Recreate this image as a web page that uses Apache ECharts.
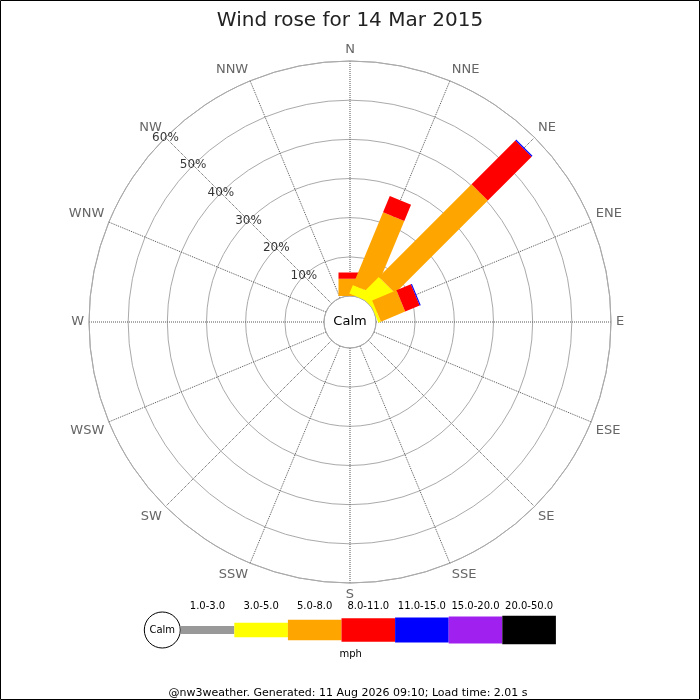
<!DOCTYPE html>
<html><head><meta charset="utf-8">
<script src="https://cdn.jsdelivr.net/npm/echarts@6/dist/echarts.min.js"></script>
<style>html,body{margin:0;padding:0;background:#fff}#c{width:700px;height:700px}</style>
</head><body><div id="c"></div>
<script>
const titleText = 'Wind rose for 14 Mar 2015';
const footerText = '@nw3weather. Generated: 11 Aug 2026 09:10; Load time: 2.01 s';
const directions = ['N','NNE','NE','ENE','E','ESE','SE','SSE','S','SSW','SW','WSW','W','WNW','NW','NNW'];
const speedBins = ['1.0-3.0','3.0-5.0','5.0-8.0','8.0-11.0','11.0-15.0','15.0-20.0','20.0-50.0'];
const binColors = ['#999999','#ffff00','#ffa500','#ff0000','#0000ff','#a020f0','#000000'];
// percentage of time per direction, one array per speed bin (mph)
const bin1to3   = [0,   0,    0,    0,   0,0,0,0,0,0,0,0,0,0,0,0];
const bin3to5   = [0,   2.4,  6.7,  0.7, 0,0,0,0,0,0,0,0,0,0,0,0];
const bin5to8   = [4.4, 20.1, 33.5, 6.7, 0,0,0,0,0,0,0,0,0,0,0,0];
const bin8to11  = [1.6, 4.5,  15.8, 4.0, 0,0,0,0,0,0,0,0,0,0,0,0];
const bin11to15 = [0,   0,    0.3,  0.3, 0,0,0,0,0,0,0,0,0,0,0,0];
const bin15to20 = [0,   0,    0,    0,   0,0,0,0,0,0,0,0,0,0,0,0];
const bin20to50 = [0,   0,    0,    0,   0,0,0,0,0,0,0,0,0,0,0,0];
const radiusTicks = [10, 20, 30, 40, 50, 60];
const labelDirection = 'NW';

const binSeries = [bin1to3, bin3to5, bin5to8, bin8to11, bin11to15, bin15to20, bin20to50];
const FONT = 'DejaVu Sans';
const BAR_HALF = 11.5;
const STEP = 360 / directions.length;

// stacked segments: [angleDeg, start, end, binIndex]
const segs = [];
directions.forEach((d, i) => {
  let acc = 0;
  binSeries.forEach((arr, b) => {
    const v = arr[i];
    if (v > 0) { segs.push([i * STEP, acc, acc + v, b]); acc += v; }
  });
});

const chart = echarts.init(document.getElementById('c'), null, {renderer: 'canvas'});

// legend graphics
const legendEls = [];
const lx0 = 180.7, segW = 53.6, ly = 630;
const legendH = [8, 14.7, 20.7, 23.3, 25, 27, 28.7];
legendEls.push({type:'circle', shape:{cx:162.3, cy:ly, r:18}, style:{fill:'#fff', stroke:'#000', lineWidth:1}});
legendEls.push({type:'text', x:162.3, y:ly, style:{text:'Calm', font:'10px "' + FONT + '"', fill:'#000', align:'center', verticalAlign:'middle'}});
speedBins.forEach((name, b) => {
  const x = lx0 + b * segW, h = legendH[b];
  legendEls.push({type:'rect', shape:{x:x, y:ly - h/2, width:segW, height:h}, style:{fill:binColors[b]}});
  legendEls.push({type:'text', x:x + segW/2, y:606.7, style:{text:name, font:'10px "' + FONT + '"', fill:'#000', align:'center', verticalAlign:'middle'}});
});
legendEls.push({type:'text', x:350.7, y:654, style:{text:'mph', font:'10px "' + FONT + '"', fill:'#000', align:'center', verticalAlign:'middle'}});

const option = {
  animation: false,
  backgroundColor: '#fff',
  textStyle: {fontFamily: FONT},
  title: {text: titleText, left: 'center', top: 6, textStyle: {fontSize: 20, fontWeight: 'normal', color: '#222', fontFamily: FONT}},
  polar: {center: [350, 322], radius: [26, 261]},
  angleAxis: {
    type: 'value', min: 0, max: 360, interval: STEP, startAngle: 90, clockwise: true,
    axisLine: {show: true, lineStyle: {color: '#aaa', width: 1}},
    axisTick: {show: false},
    axisLabel: {color: '#666', fontSize: 13, margin: 5, fontFamily: FONT,
      formatter: v => directions[Math.round(v / STEP) % directions.length]},
    splitLine: {show: true, lineStyle: {color: '#555', type: 'dotted', width: 1}}
  },
  radiusAxis: {
    type: 'value', min: 0, max: 60, interval: 10,
    axisLine: {show: false}, axisTick: {show: false}, axisLabel: {show: false},
    splitLine: {show: true, lineStyle: {color: '#aaa', width: 1}}
  },
  series: [
    {
      type: 'custom', coordinateSystem: 'polar',
      dimensions: ['angle', 'start', 'end', 'bin'],
      encode: {angle: 0, radius: 2},
      data: segs,
      renderItem: function (params, api) {
        const ang = api.value(0), r0 = api.value(1), r1 = api.value(2), b = api.value(3);
        const pa = api.coord([0, ang]), pb = api.coord([60, ang]);
        let ux = pb[0] - pa[0], uy = pb[1] - pa[1];
        const L = Math.sqrt(ux*ux + uy*uy); ux /= L; uy /= L;
        const nx = -uy * BAR_HALF, ny = ux * BAR_HALF;
        const p0 = api.coord([r0, ang]), p1 = api.coord([r1, ang]);
        return {
          type: 'polygon',
          shape: {points: [[p0[0]+nx, p0[1]+ny], [p1[0]+nx, p1[1]+ny], [p1[0]-nx, p1[1]-ny], [p0[0]-nx, p0[1]-ny]]},
          style: {fill: binColors[b]}
        };
      }
    },
    {
      type: 'scatter', coordinateSystem: 'polar', silent: true,
      symbolSize: 1, itemStyle: {color: 'rgba(0,0,0,0)'},
      data: radiusTicks.map(v => [v, directions.indexOf(labelDirection) * STEP]),
      label: {show: true, position: 'inside', color: '#000', fontSize: 12, fontFamily: FONT,
        formatter: p => p.value[0] + '%'}
    }
  ],
  graphic: [
    {type: 'text', x: 350, y: 322, z: 100, style: {text: 'Calm', font: '13px "' + FONT + '"', fill: '#000', align: 'center', verticalAlign: 'middle'}},
    {type: 'group', children: legendEls},
    {type: 'text', x: 348, y: 692.7, style: {text: footerText, font: '11px "' + FONT + '"', fill: '#000', align: 'center', verticalAlign: 'middle'}},
    {type: 'rect', shape: {x: 0.5, y: 0.5, width: 699, height: 699}, style: {fill: 'none', stroke: '#000', lineWidth: 1}}
  ]
};
chart.setOption(option);
</script></body></html>
